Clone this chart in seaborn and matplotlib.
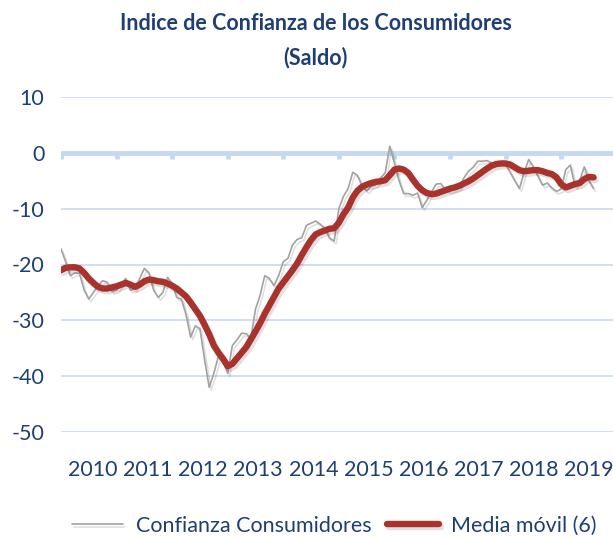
import numpy as np
import pandas as pd
import matplotlib
matplotlib.use("Agg")
import matplotlib.pyplot as plt
import matplotlib.patheffects as pe
import seaborn as sns

# monthly values, Jan 2010 onwards
confianza = [
    -17.2, -19.5, -22.0, -21.5, -21.6, -24.6, -26.2, -25.0, -23.8, -22.9,
    -23.2, -24.8, -24.6, -23.5, -22.5, -24.6, -24.3, -22.5, -20.7, -21.5,
    -24.6, -25.9, -25.0, -22.3, -23.4, -25.9, -26.2, -29.0, -33.0, -31.0,
    -31.5, -37.0, -42.0, -39.5, -36.4, -37.5, -39.5, -34.5, -33.5, -32.3,
    -32.4, -33.2, -28.0, -25.5, -22.0, -22.5, -23.8, -22.0, -19.5, -18.9,
    -16.5, -15.5, -15.2, -13.0, -12.6, -12.2, -12.8, -13.5, -15.3, -15.8,
    -10.0, -7.8, -6.4, -3.5, -4.0, -5.9, -6.8, -6.0, -5.7, -4.5,
    -3.6, 1.2, -1.8, -5.0, -7.3, -7.3, -7.6, -7.2, -9.8, -8.5,
    -7.0, -5.6, -5.5, -6.6, -6.8, -6.5, -6.2, -4.5, -3.3, -2.6,
    -1.5, -1.5, -1.4, -1.8, -1.9, -1.8, -2.0, -3.5, -5.0, -6.4,
    -3.5, -1.2, -2.5, -4.2, -5.8, -5.4, -6.3, -6.9, -6.5, -3.0,
    -2.2, -6.0, -5.0, -2.5, -5.0, -6.4,
]
media_movil = [
    -21.0, -20.6, -20.5, -20.5, -20.7, -21.5, -22.5, -23.3, -24.0, -24.3,
    -24.3, -24.1, -23.9, -23.6, -23.3, -23.6, -24.0, -23.6, -23.0, -22.7,
    -22.8, -23.0, -23.1, -23.4, -23.8, -24.3, -25.0, -25.7, -26.8, -28.0,
    -29.2, -30.8, -32.5, -34.5, -35.8, -36.9, -38.2, -37.8, -36.8, -35.8,
    -34.8, -33.4, -32.0, -30.5, -28.8, -27.3, -25.8, -24.3, -23.2, -22.1,
    -21.0, -19.8, -18.3, -16.9, -15.6, -14.6, -14.2, -13.9, -13.6, -13.5,
    -12.5, -11.0, -9.8, -8.0, -6.8, -6.1, -5.7, -5.4, -5.2, -5.1,
    -4.9, -4.0, -3.0, -2.8, -3.0, -3.6, -4.8, -5.9, -6.7, -7.2,
    -7.4, -7.3, -7.0, -6.7, -6.4, -6.2, -5.9, -5.5, -5.1, -4.6,
    -4.0, -3.4, -2.8, -2.3, -2.0, -1.9, -1.9, -2.1, -2.6, -3.1,
    -3.3, -3.2, -3.1, -3.1, -3.3, -3.6, -3.8, -4.4, -5.6, -6.2,
    -5.9, -5.6, -5.4, -4.7, -4.3, -4.4,
]
years = ['2010', '2011', '2012', '2013', '2014', '2015', '2016', '2017', '2018', '2019']
y_ticks = [10, 0, -10, -20, -30, -40, -50]

df = pd.DataFrame({
    'mes': np.arange(len(confianza)),
    'Confianza Consumidores': confianza,
    'Media móvil (6)': media_movil,
})

sns.set_theme(style="white")
plt.rcParams['font.family'] = ['Lato', 'DejaVu Sans']

navy = '#1f3f73'
grid_col = '#cddcf0'

fig = plt.figure(figsize=(6.13, 5.39), dpi=100)
ax = fig.add_axes([61 / 613, 1 - 432 / 539, 1 - 61 / 613, (432 - 97) / 539])

for v in y_ticks:
    if v == 0:
        continue
    ax.axhline(v, color=grid_col, lw=1.3, zorder=0)
ax.axhline(0, color='#c6d9f1', lw=3.5, zorder=1)
# little tick marks hanging under the zero line at each year boundary
ax.vlines(np.arange(0, 121, 12), -1.1, 0, color='#c6d9f1', lw=3.5, zorder=1)

shadow = [pe.SimpleLineShadow(offset=(1.5, -2), shadow_color='black', alpha=0.12), pe.Normal()]
sns.lineplot(data=df, x='mes', y='Confianza Consumidores', ax=ax, color='#a2a2a2',
             lw=1.2, label='Confianza Consumidores', path_effects=shadow, zorder=3)
sns.lineplot(data=df, x='mes', y='Media móvil (6)', ax=ax, color='#a9322d',
             lw=4.6, label='Media móvil (6)', path_effects=shadow, zorder=4,
             solid_capstyle='round')

ax.set_xlim(0, 119.2)
ax.set_ylim(-50, 10)
ax.set_yticks(y_ticks)
ax.set_yticklabels([str(v) for v in y_ticks])
ax.set_xticks([6.9 + 11.9 * i for i in range(len(years))])
ax.set_xticklabels(years)
ax.tick_params(axis='both', length=0, labelsize=15.5, colors=navy)
ax.tick_params(axis='x', pad=20)
ax.tick_params(axis='y', pad=12)
ax.set_xlabel('')
ax.set_ylabel('')
for s in ax.spines.values():
    s.set_visible(False)

leg = ax.legend(loc='center', bbox_to_anchor=(0.495, -0.28), ncol=2,
                frameon=False, fontsize=15.5, handlelength=2.4, columnspacing=0.7,
                handletextpad=0.6)
for t in leg.get_texts():
    t.set_color(navy)

fig.text(0.515, 1 - 24 / 539, 'Indice de Confianza de los Consumidores', ha='center', va='center',
         fontsize=15.5, fontweight='bold', color=navy)
fig.text(0.515, 1 - 58 / 539, '(Saldo)', ha='center', va='center',
         fontsize=15.5, fontweight='bold', color=navy)

fig.savefig('out.png', dpi=100)
